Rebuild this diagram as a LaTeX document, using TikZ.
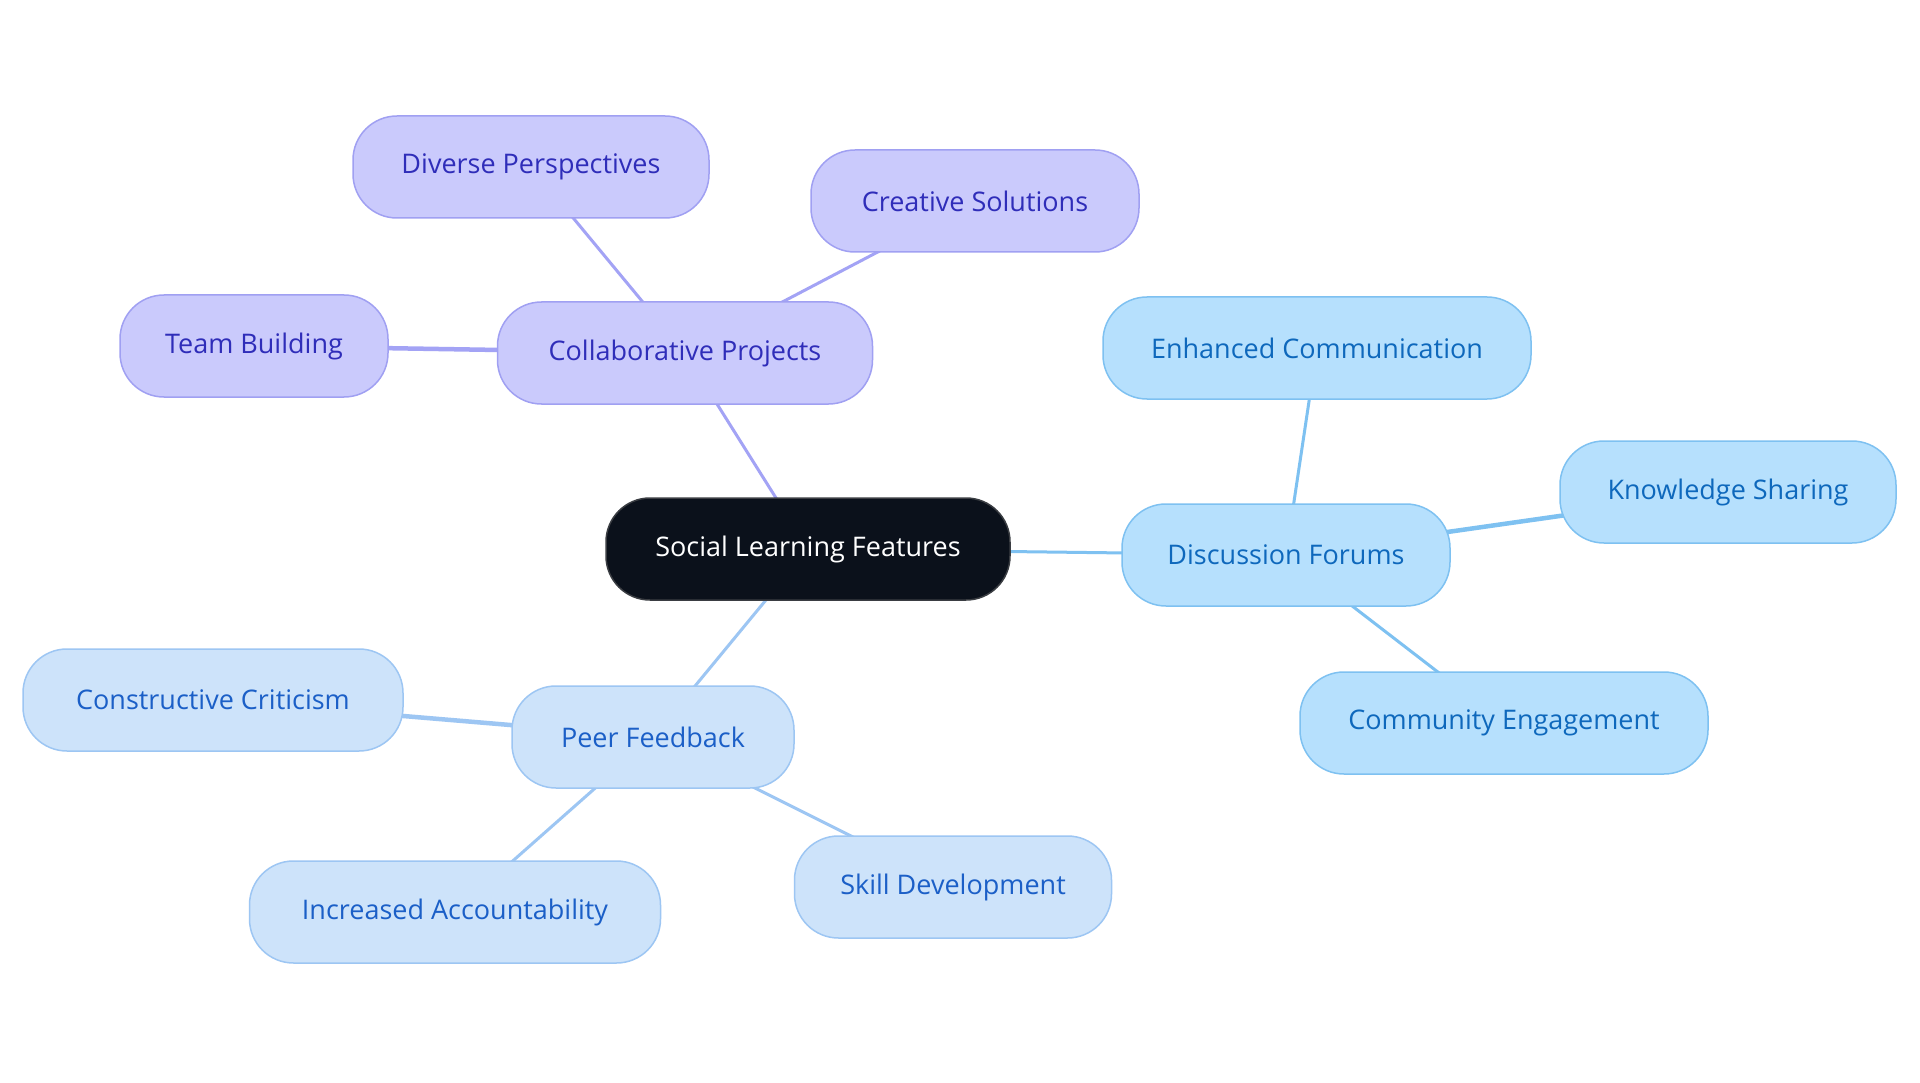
\documentclass[tikz,border=0pt]{standalone}
\usepackage{fontspec}
\setmainfont{Open Sans}
\usetikzlibrary{backgrounds}
\definecolor{purfill}{HTML}{CACAFC}
\definecolor{purdraw}{HTML}{A0A0F2}
\definecolor{purtext}{HTML}{2F2DB9}
\definecolor{purline}{HTML}{A3A3F5}
\definecolor{skyfill}{HTML}{B6E0FD}
\definecolor{skydraw}{HTML}{7EC1F1}
\definecolor{skytext}{HTML}{0E68BC}
\definecolor{skyline}{HTML}{7EC1F1}
\definecolor{palefill}{HTML}{CDE3FA}
\definecolor{paledraw}{HTML}{9DC6F3}
\definecolor{paletext}{HTML}{1B5FC7}
\definecolor{paleline}{HTML}{9DC6F3}
\definecolor{rootfill}{HTML}{0B111B}
\definecolor{rootdraw}{HTML}{3A3D42}
\tikzset{
  x=1pt, y=-1pt,
  box/.style={rounded corners=44pt, minimum height=102pt, line width=1.5pt,
    inner xsep=0pt, align=center, font=\fontsize{27}{32}\selectfont},
  rootbox/.style={box, fill=rootfill, draw=rootdraw, text=white},
  purbox/.style={box, fill=purfill, draw=purdraw, text=purtext},
  skybox/.style={box, fill=skyfill, draw=skydraw, text=skytext},
  palebox/.style={box, fill=palefill, draw=paledraw, text=paletext},
  purlink/.style={draw=purline, line width=3pt},
  skylink/.style={draw=skyline, line width=3pt},
  palelink/.style={draw=paleline, line width=3pt},
}
\begin{document}
\begin{tikzpicture}
\useasboundingbox (0,0) rectangle (1920,1083);
\node[rootbox, minimum width=404pt] (root) at (808,549) {Social Learning Features};
\node[purbox, minimum width=375pt] (cp) at (685,353) {Collaborative Projects};
\node[purbox, minimum width=356pt] (dp) at (531,167) {Diverse Perspectives};
\node[purbox, minimum width=328pt] (cs) at (975,201) {Creative Solutions};
\node[purbox, minimum width=268pt] (tb) at (254,346) {Team Building};
\node[skybox, minimum width=328pt] (df) at (1286,555) {Discussion Forums};
\node[skybox, minimum width=428pt] (ec) at (1317,348) {Enhanced Communication};
\node[skybox, minimum width=336pt] (ks) at (1728,492) {Knowledge Sharing};
\node[skybox, minimum width=408pt] (ce) at (1504,723) {Community Engagement};
\node[palebox, minimum width=282pt] (pf) at (653,737) {Peer Feedback};
\node[palebox, minimum width=380pt] (cc) at (213,700) {Constructive Criticism};
\node[palebox, minimum width=411pt] (ia) at (455,912) {Increased Accountability};
\node[palebox, minimum width=317pt] (sd) at (953,887) {Skill Development};
\begin{scope}[on background layer]
\fill[white] (0,0) rectangle (1920,1083);
\draw[purlink] (root.center) -- (cp.center);
\draw[purlink] (cp.center) -- (dp.center);
\draw[purlink] (cp.center) -- (cs.center);
\draw[purlink, line width=4.5pt] (cp.center) -- (tb.center);
\draw[skylink] (root.center) -- (df.center);
\draw[skylink] (df.center) -- (ec.center);
\draw[skylink, line width=4.5pt] (df.center) -- (ks.center);
\draw[skylink] (df.center) -- (ce.center);
\draw[palelink] (root.center) -- (pf.center);
\draw[palelink, line width=4.5pt] (pf.center) -- (cc.center);
\draw[palelink] (pf.center) -- (ia.center);
\draw[palelink] (pf.center) -- (sd.center);
\end{scope}
\end{tikzpicture}
\end{document}
